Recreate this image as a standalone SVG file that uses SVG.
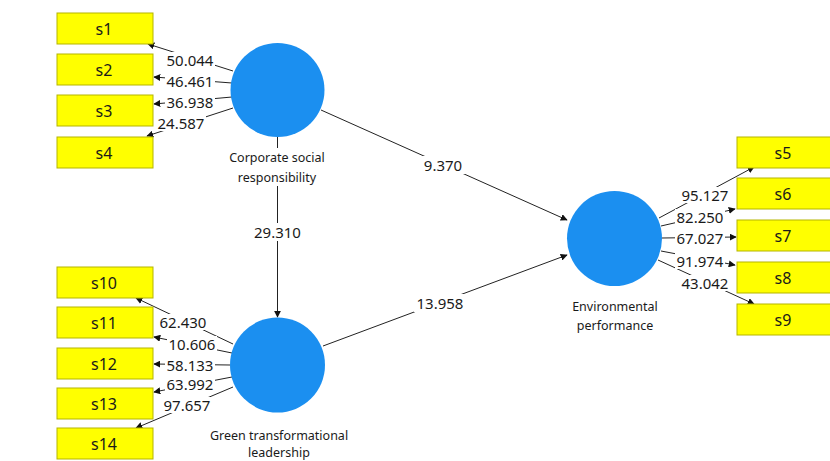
<svg xmlns="http://www.w3.org/2000/svg" width="830" height="461" viewBox="0 0 830 461">
<style>
.box{fill:#ffff00;stroke:#b5b500;stroke-width:1}
.lv{fill:#1b8ff0}
.bt{font-family:"Noto Sans","Open Sans",sans-serif;font-size:16px;fill:#1a1a1a;text-anchor:middle;dominant-baseline:central}
.nl{font-family:"Noto Sans","Open Sans",sans-serif;font-size:12.5px;fill:#1a1a1a;text-anchor:middle;dominant-baseline:central}
.w{font-family:"Noto Sans","Open Sans",sans-serif;font-size:15px;fill:#1a1a1a;text-anchor:middle;dominant-baseline:central}
.bg{fill:#fff}
.c{stroke:#222;stroke-width:1;fill:none;marker-end:url(#ah)}
</style>
<defs>
<marker id="ah" viewBox="0 0 10 10" refX="9" refY="5" markerWidth="7" markerHeight="7" markerUnits="userSpaceOnUse" orient="auto">
<path d="M0,0 L10,5 L0,10 z" fill="#111"/>
</marker>
</defs>
<rect width="830" height="461" fill="#fff"/>
<g id="connectors">
<line class="c" x1="233" y1="71" x2="148" y2="44"/>
<line class="c" x1="232" y1="83" x2="154" y2="77"/>
<line class="c" x1="232" y1="97" x2="154" y2="104"/>
<line class="c" x1="233" y1="108" x2="147" y2="136"/>
<line class="c" x1="233" y1="344" x2="136" y2="298"/>
<line class="c" x1="232" y1="353" x2="154" y2="337"/>
<line class="c" x1="230" y1="365" x2="154" y2="364"/>
<line class="c" x1="232" y1="377" x2="154" y2="392"/>
<line class="c" x1="233" y1="387" x2="136" y2="428"/>
<line class="c" x1="659" y1="218" x2="754" y2="167"/>
<line class="c" x1="661" y1="226" x2="735" y2="209"/>
<line class="c" x1="662" y1="238" x2="736" y2="237"/>
<line class="c" x1="661" y1="251" x2="735" y2="265"/>
<line class="c" x1="658" y1="260" x2="754" y2="304"/>
<line class="c" x1="277.5" y1="137" x2="277.5" y2="317"/>
<line class="c" x1="321" y1="110" x2="567" y2="220"/>
<line class="c" x1="323" y1="346" x2="567" y2="255"/>
<rect class="bg" x="165" y="52" width="50" height="16"/><text class="w" x="190" y="60">50.044</text>
<rect class="bg" x="165" y="73" width="50" height="16"/><text class="w" x="190" y="81">46.461</text>
<rect class="bg" x="165" y="94" width="50" height="16"/><text class="w" x="190" y="102">36.938</text>
<rect class="bg" x="156" y="115" width="50" height="16"/><text class="w" x="181" y="123">24.587</text>
<rect class="bg" x="158" y="314" width="50" height="16"/><text class="w" x="183" y="322">62.430</text>
<rect class="bg" x="167" y="336" width="50" height="16"/><text class="w" x="192" y="344">10.606</text>
<rect class="bg" x="165" y="357" width="50" height="16"/><text class="w" x="190" y="365">58.133</text>
<rect class="bg" x="165" y="376" width="50" height="16"/><text class="w" x="190" y="384">63.992</text>
<rect class="bg" x="162" y="397" width="50" height="16"/><text class="w" x="187" y="405">97.657</text>
<rect class="bg" x="680" y="187" width="50" height="16"/><text class="w" x="705" y="195">95.127</text>
<rect class="bg" x="675" y="209" width="50" height="16"/><text class="w" x="700" y="217">82.250</text>
<rect class="bg" x="675" y="230" width="50" height="16"/><text class="w" x="700" y="238">67.027</text>
<rect class="bg" x="675" y="253" width="50" height="16"/><text class="w" x="700" y="261">91.974</text>
<rect class="bg" x="680" y="275" width="50" height="16"/><text class="w" x="705" y="283">43.042</text>
<rect class="bg" x="251" y="223" width="53" height="18"/><text class="w" x="277.5" y="232">29.310</text>
<rect class="bg" x="421" y="156" width="44" height="18"/><text class="w" x="443" y="165">9.370</text>
<rect class="bg" x="414" y="294" width="52" height="18"/><text class="w" x="440" y="303">13.958</text>
</g>
<g id="s1"><rect class="box" x="57" y="13" width="96" height="31"/><text class="bt" x="104" y="29">s1</text></g>
<g id="s2"><rect class="box" x="57" y="54" width="96" height="31"/><text class="bt" x="104" y="70">s2</text></g>
<g id="s3"><rect class="box" x="57" y="95" width="96" height="31"/><text class="bt" x="104" y="111">s3</text></g>
<g id="s4"><rect class="box" x="57" y="137" width="96" height="31"/><text class="bt" x="104" y="153">s4</text></g>
<g id="s10"><rect class="box" x="57" y="267" width="96" height="31"/><text class="bt" x="104" y="283">s10</text></g>
<g id="s11"><rect class="box" x="57" y="307" width="96" height="31"/><text class="bt" x="104" y="323">s11</text></g>
<g id="s12"><rect class="box" x="57" y="348" width="96" height="31"/><text class="bt" x="104" y="364">s12</text></g>
<g id="s13"><rect class="box" x="57" y="388" width="96" height="31"/><text class="bt" x="104" y="404">s13</text></g>
<g id="s14"><rect class="box" x="57" y="428" width="96" height="31"/><text class="bt" x="104" y="444">s14</text></g>
<g id="s5"><rect class="box" x="737" y="137" width="96" height="31"/><text class="bt" x="783" y="153">s5</text></g>
<g id="s6"><rect class="box" x="737" y="178" width="96" height="31"/><text class="bt" x="783" y="194">s6</text></g>
<g id="s7"><rect class="box" x="737" y="220" width="96" height="31"/><text class="bt" x="783" y="236">s7</text></g>
<g id="s8"><rect class="box" x="737" y="262" width="96" height="31"/><text class="bt" x="783" y="278">s8</text></g>
<g id="s9"><rect class="box" x="737" y="304" width="96" height="31"/><text class="bt" x="783" y="320">s9</text></g>
<g id="csr"><circle class="lv" cx="277.5" cy="90" r="47"/><rect class="bg" x="226" y="148" width="103" height="38"/><text class="nl" x="277" y="157">Corporate social</text><text class="nl" x="277" y="177">responsibility</text></g>
<g id="gtl"><circle class="lv" cx="277.5" cy="365" r="47.5"/><text class="nl" x="279" y="435">Green transformational</text><text class="nl" x="279" y="452">leadership</text></g>
<g id="ep"><circle class="lv" cx="614.5" cy="238.5" r="47.5"/><text class="nl" x="615" y="306">Environmental</text><text class="nl" x="615" y="325">performance</text></g>
</svg>
